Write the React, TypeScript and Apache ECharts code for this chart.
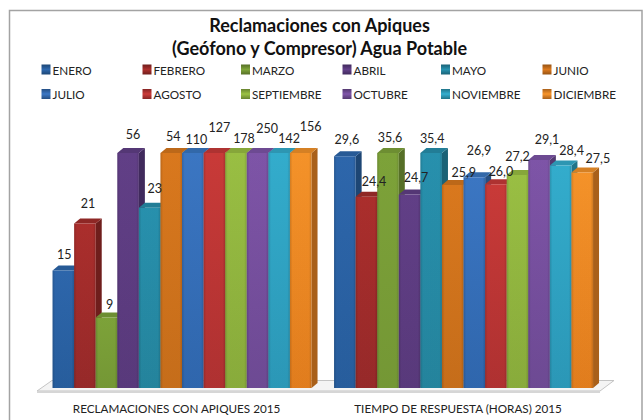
import React, { useEffect, useRef } from "react";
import * as echarts from "echarts";

const titleText = "Reclamaciones con Apiques\n(Geófono y Compresor) Agua Potable";
const categories = ["RECLAMACIONES CON APIQUES 2015", "TIEMPO DE RESPUESTA (HORAS) 2015"];
const months = ["ENERO", "FEBRERO", "MARZO", "ABRIL", "MAYO", "JUNIO", "JULIO", "AGOSTO", "SEPTIEMBRE", "OCTUBRE", "NOVIEMBRE", "DICIEMBRE"];
const reclamaciones = [15, 21, 9, 56, 23, 54, 110, 127, 178, 250, 142, 156];
const tiempoRespuesta = [29.6, 24.4, 35.6, 24.7, 35.4, 25.9, 26.9, 26.0, 27.2, 29.1, 28.4, 27.5];
const axisMax = 30;

const frontTop = ["#2e68ae", "#ad2f2d", "#7fa53a", "#634089", "#2893b0", "#dd7a1e", "#3c78c6", "#cc3b39", "#9cc244", "#8056aa", "#34afd0", "#f9952a"];
const frontBottom = ["#285f9f", "#992a2a", "#769a36", "#5a3a7d", "#25869f", "#c96f1b", "#3068b0", "#b23232", "#8bae3c", "#6f4b96", "#2c9aba", "#e57f1e"];
const sideColors = ["#1d4674", "#6f1e1c", "#566f27", "#402a5c", "#1a6276", "#965313", "#254f84", "#862524", "#688330", "#543970", "#217489", "#a9601a"];
const capColors = ["#275a96", "#8e2725", "#6d8e32", "#543775", "#227d96", "#bc6819", "#3268a9", "#ae3231", "#86a63a", "#6d4a92", "#2d96b2", "#d58024"];

const labelDx = [
  [1, 3, 3, 5, 5, 2, 3.5, 5, 8, 9.5, 10, 10],
  [2, 7.6, 2, 6.4, 1, 11, 4.6, 5, 0, 8, 11, 15.6],
];
const labelDy = [
  [-16.5, -20, -13.5, -19, -19, -17, -14, -26, -15, -25, -15, -27],
  [-17, -15, -16, -16.6, -15, -13, -27, -13, -18, -21, -14.6, -13.7],
];
const legendColumns = [41.5, 142.5, 241, 342.5, 441, 542.5];
const legendRows = [63.5, 88];

const FONT = "Lato";
const DEPTH_X = 6;
const DEPTH_Y = 5;
const GROUP_RATIO = 0.92;

function App() {
  const ref = useRef<HTMLDivElement | null>(null);

  useEffect(() => {
    if (!ref.current) return;
    const chart = echarts.init(ref.current, null, { renderer: "svg" });

    const renderBar = (params: any, api: any) => {
      const s = params.seriesIndex;
      const cat = api.value(0);
      const raw = api.value(1);
      const band = api.size([1, 0])[0];
      const barW = (band * GROUP_RATIO) / months.length;
      const center = api.coord([cat, 0]);
      const x0 = center[0] - (barW * months.length) / 2 + s * barW;
      const x1 = x0 + barW;
      const yBase = center[1];
      const yTop = api.coord([cat, Math.min(raw, axisMax)])[1];
      const text = cat === 0 ? String(raw) : raw.toFixed(1).replace(".", ",");
      return {
        type: "group",
        children: [
          {
            type: "polygon",
            shape: { points: [[x1, yTop], [x1 + DEPTH_X, yTop - DEPTH_Y], [x1 + DEPTH_X, yBase - DEPTH_Y], [x1, yBase]] },
            style: { fill: sideColors[s] },
          },
          {
            type: "polygon",
            shape: { points: [[x0, yTop], [x0 + DEPTH_X, yTop - DEPTH_Y], [x1 + DEPTH_X, yTop - DEPTH_Y], [x1, yTop]] },
            style: { fill: capColors[s] },
          },
          {
            type: "rect",
            shape: { x: x0, y: yTop, width: barW, height: yBase - yTop },
            style: {
              fill: new echarts.graphic.LinearGradient(0, 0, 0, 1, [
                { offset: 0, color: frontTop[s] },
                { offset: 1, color: frontBottom[s] },
              ]),
            },
          },
          {
            type: "rect",
            shape: { x: x0, y: yTop, width: barW, height: yBase - yTop },
            style: {
              fill: new echarts.graphic.LinearGradient(0, 0, 1, 0, [
                { offset: 0, color: "rgba(0,0,0,0.16)" },
                { offset: 0.12, color: "rgba(0,0,0,0.02)" },
                { offset: 0.88, color: "rgba(0,0,0,0.02)" },
                { offset: 1, color: "rgba(0,0,0,0.16)" },
              ]),
            },
          },
          {
            type: "text",
            z2: 100,
            style: {
              text,
              x: (x0 + x1) / 2 + labelDx[cat][s],
              y: yTop + labelDy[cat][s],
              align: "center",
              verticalAlign: "middle",
              fontFamily: FONT,
              fontSize: 12.5,
              fill: "#222222",
            },
          },
        ],
      };
    };

    chart.setOption({
      animation: false,
      backgroundColor: "#ffffff",
      title: {
        text: titleText,
        left: 314.5,
        top: 8,
        textAlign: "center",
        textStyle: { fontFamily: FONT, fontSize: 18, fontWeight: "bold", color: "#111111", lineHeight: 23 },
      },
      legend: months.map((name, i) => ({
        data: [{ name, icon: "rect", itemStyle: {
          color: new echarts.graphic.LinearGradient(0, 0, 0, 1, [
            { offset: 0, color: sideColors[i] },
            { offset: 0.5, color: frontTop[i] },
            { offset: 1, color: sideColors[i] },
          ]),
        } }],
        left: legendColumns[i % 6],
        top: legendRows[Math.floor(i / 6)],
        padding: 0,
        itemWidth: 9,
        itemHeight: 10,
        itemGap: 0,
        selectedMode: false,
        textStyle: { fontFamily: FONT, fontSize: 11.7, color: "#222222", padding: [0, 0, 0, -3] },
      })),
      grid: { left: 41.3, right: 39.7, top: 153, bottom: 32 },
      xAxis: {
        type: "category",
        data: categories,
        axisLine: { show: false },
        axisTick: { show: false },
        axisLabel: { fontFamily: FONT, fontSize: 11.7, color: "#222222", margin: 14, padding: [0, 11, 0, 0], interval: 0 },
      },
      yAxis: { type: "value", min: 0, max: axisMax, show: false, splitLine: { show: false } },
      graphic: [
        {
          type: "rect",
          z: -10,
          shape: { x: 9.5, y: 10.5, width: 632.5, height: 420 },
          style: { fill: "#ffffff", stroke: "#a3a3a3", lineWidth: 1.5 },
        },
        {
          type: "polygon",
          z: -5,
          shape: { points: [[37, 391], [52, 380.5], [614, 380.5], [600, 391]] },
          style: { fill: "#f4f4f4", stroke: "#c4c4c4", lineWidth: 1 },
        },
        {
          type: "rect",
          z: -5,
          shape: { x: 37, y: 391, width: 563, height: 2 },
          style: { fill: "#d6d6d6" },
        },
      ],
      series: months.map((name, i) => ({
        name,
        type: "custom",
        coordinateSystem: "cartesian2d",
        clip: false,
        itemStyle: { color: frontTop[i] },
        encode: { x: 0, y: 1 },
        renderItem: renderBar,
        data: [
          [0, reclamaciones[i]],
          [1, tiempoRespuesta[i]],
        ],
      })),
    });

    return () => chart.dispose();
  }, []);

  return <div ref={ref} style={{ position: "fixed", left: 0, top: 0, width: 644, height: 420 }} />;
}

export default App;
